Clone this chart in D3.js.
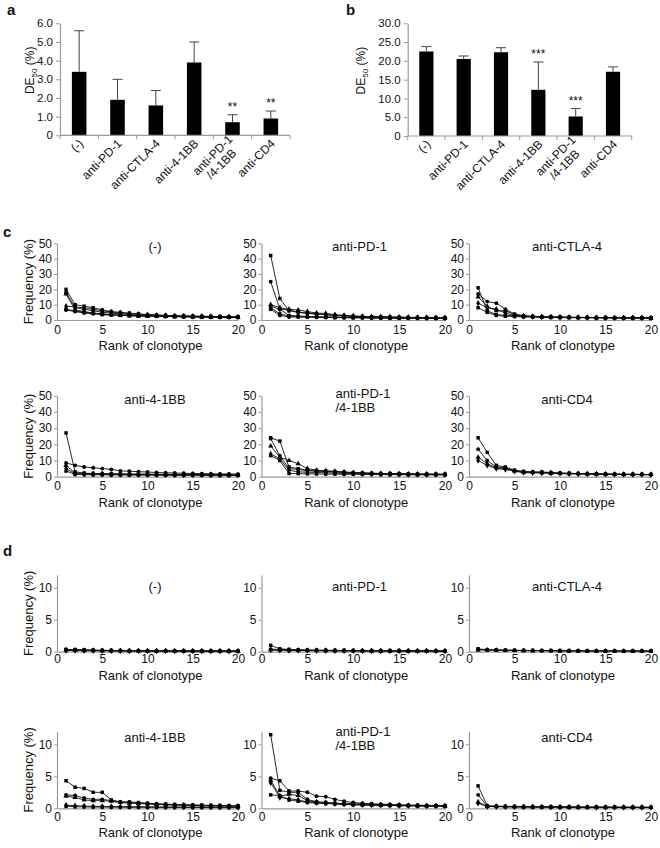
<!DOCTYPE html>
<html><head><meta charset="utf-8">
<script src="https://cdn.jsdelivr.net/npm/d3@7"></script>
<style>
body{margin:0;background:#fff}
svg text{font-family:"Liberation Sans",Arial,Helvetica,sans-serif;fill:#111}
</style>
</head><body>
<svg id="fig" width="660" height="848"></svg>
<script>
// ---------- data ----------
const barCats = ["(-)","anti-PD-1","anti-CTLA-4","anti-4-1BB","anti-PD-1\n/4-1BB","anti-CD4"];
const aMean = [3.4,1.9,1.6,3.9,0.7,0.9];
const aErr  = [2.2,1.1,0.8,1.1,0.4,0.4];
const aSig  = ["","","","","**","**"];
const aTicks = [0,1,2,3,4,5,6];
const bMean = [22.5,20.5,22.3,12.3,5.2,17.1];
const bErr  = [1.3,0.8,1.2,7.4,2.1,1.3];
const bSig  = ["","","","***","***",""];
const bTicks = [0,5,10,15,20,25,30];

const panelTitles = ["(-)","anti-PD-1","anti-CTLA-4","anti-4-1BB","anti-PD-1\n/4-1BB","anti-CD4"];
const ranks = d3.range(1,21);
const rankTicks = [0,5,10,15,20];
const cTicks = [0,10,20,30,40,50];
const dTicks = [0,5,10];

// panel c (frequency % by clonotype rank), one array per mouse
const cNeg = [
 [20,10,9,8,6.5,5.5,5,4.5,4,3.5,3.3,3,2.8,2.7,2.5,2.4,2.3,2.2,2.1,2.0],
 [18,8,7,6,5,4.5,4,3.6,3.3,3,2.8,2.6,2.5,2.4,2.3,2.2,2.1,2.0,1.9,1.9],
 [17,6.5,5.5,4.5,3.8,3.4,3.1,2.8,2.6,2.5,2.4,2.3,2.2,2.1,2.0,1.9,1.8,1.8,1.7,1.7],
 [9,8.5,8,7,6,5.2,4.6,4.1,3.7,3.4,3.1,2.9,2.7,2.6,2.5,2.4,2.3,2.2,2.1,2.0],
 [7,6,5,4.5,4,3.5,3.2,3.0,2.8,2.6,2.5,2.4,2.3,2.2,2.1,2.0,1.9,1.9,1.8,1.8],
 [6.5,5.5,4.5,4,3.5,3.2,3,2.8,2.6,2.5,2.4,2.3,2.2,2.1,2.0,1.9,1.9,1.8,1.8,1.7]
];
const cPD1 = [
 [42,14,6,5,4.3,3.8,3.4,3.0,2.7,2.5,2.3,2.1,2.0,1.9,1.8,1.7,1.7,1.6,1.6,1.5],
 [25,7,3,2.6,2.3,2.1,2.0,1.9,1.8,1.7,1.6,1.5,1.5,1.4,1.4,1.3,1.3,1.3,1.2,1.2],
 [10,8,7,6.5,5.5,4.5,4.3,3.5,3.0,2.6,2.3,2.1,2.0,1.9,1.8,1.7,1.6,1.6,1.5,1.5],
 [9,7,6.5,5,4.5,4,3.5,3,2.7,2.4,2.2,2.0,1.9,1.8,1.7,1.6,1.6,1.5,1.5,1.4],
 [8,4,2.5,2.3,2.1,1.9,1.8,1.7,1.6,1.5,1.5,1.4,1.4,1.3,1.3,1.3,1.2,1.2,1.2,1.1],
 [7,3,2,1.9,1.8,1.7,1.6,1.5,1.5,1.4,1.4,1.3,1.3,1.2,1.2,1.2,1.1,1.1,1.1,1.0]
];
const cCTLA4 = [
 [21,6,3.5,3,2.7,2.4,2.2,2.0,1.9,1.8,1.7,1.7,1.6,1.6,1.5,1.5,1.5,1.4,1.4,1.4],
 [17,12,11,7,4,2.8,2.4,2.2,2.0,1.9,1.8,1.7,1.7,1.6,1.6,1.5,1.5,1.5,1.4,1.4],
 [15,9,6,6,3.5,2.6,2.3,2.1,1.9,1.8,1.7,1.6,1.6,1.5,1.5,1.5,1.4,1.4,1.4,1.3],
 [11,8,7,4.5,3,2.5,2.2,2.0,1.9,1.8,1.7,1.6,1.6,1.5,1.5,1.4,1.4,1.4,1.3,1.3],
 [8,5,3,2.5,2.2,2.0,1.9,1.8,1.7,1.6,1.6,1.5,1.5,1.4,1.4,1.4,1.3,1.3,1.3,1.3]
];
const c41BB = [
 [27,3,2.2,2.0,1.9,1.8,1.7,1.6,1.6,1.5,1.5,1.4,1.4,1.3,1.3,1.3,1.2,1.2,1.2,1.2],
 [8.5,7,6,5.5,5,4.5,3.6,3.4,3.1,2.9,2.6,2.4,2.3,2.1,2.0,1.9,1.8,1.7,1.7,1.6],
 [7,2.2,2.0,1.9,1.8,1.7,1.6,1.6,1.5,1.5,1.4,1.4,1.3,1.3,1.3,1.2,1.2,1.2,1.1,1.1],
 [5,1.8,1.6,1.5,1.5,1.4,1.4,1.3,1.3,1.2,1.2,1.2,1.1,1.1,1.1,1.0,1.0,1.0,1.0,1.0],
 [3.5,1.5,1.3,1.2,1.2,1.1,1.1,1.0,1.0,1.0,1.0,0.9,0.9,0.9,0.9,0.9,0.8,0.8,0.8,0.8]
];
const cPD1_41BB = [
 [24,22,6,5,4,3.8,3.5,3.2,2.8,2.5,2.3,2.1,2.0,1.9,1.8,1.7,1.6,1.6,1.5,1.5],
 [23.5,13,5,4.5,3.7,3.4,3.2,2.9,2.6,2.4,2.2,2.0,1.9,1.8,1.7,1.6,1.6,1.5,1.5,1.4],
 [19,12,10,8,5,4,3.6,3.3,2.9,2.6,2.3,2.1,2.0,1.9,1.8,1.7,1.6,1.6,1.5,1.5],
 [14,11,4,3,2.8,2.6,2.4,2.2,2.0,1.9,1.8,1.7,1.6,1.5,1.5,1.4,1.4,1.3,1.3,1.3],
 [13,10,2,1.9,1.8,1.7,1.6,1.6,1.5,1.5,1.4,1.4,1.3,1.3,1.3,1.2,1.2,1.2,1.2,1.1]
];
const cCD4 = [
 [24,15,7,6,4,3.3,3.0,2.9,2.6,2.3,2.1,2.0,1.9,1.8,1.7,1.6,1.5,1.5,1.4,1.4],
 [17,10,6,5.5,3.8,3.0,2.8,2.7,2.4,2.2,2.0,1.9,1.8,1.7,1.6,1.5,1.5,1.4,1.4,1.3],
 [12,8,5.5,5,3.6,2.7,2.6,2.5,2.2,2.0,1.9,1.8,1.7,1.6,1.5,1.5,1.4,1.4,1.3,1.3],
 [10,7,5,4.5,3.4,2.5,2.4,2.3,2.1,1.9,1.8,1.7,1.6,1.5,1.5,1.4,1.4,1.3,1.3,1.2]
];
// panel d
const dNeg = [
 [0.35,0.33,0.3,0.25,0.22,0.2,0.18,0.17,0.16,0.15,0.14,0.14,0.13,0.13,0.12,0.12,0.12,0.11,0.11,0.1],
 [0.3,0.28,0.25,0.22,0.2,0.18,0.17,0.16,0.15,0.14,0.13,0.13,0.12,0.12,0.11,0.11,0.1,0.1,0.1,0.1],
 [0.25,0.22,0.2,0.18,0.16,0.15,0.14,0.13,0.12,0.12,0.11,0.11,0.1,0.1,0.1,0.09,0.09,0.09,0.09,0.08],
 [0.2,0.18,0.16,0.15,0.14,0.13,0.12,0.11,0.11,0.1,0.1,0.1,0.09,0.09,0.09,0.08,0.08,0.08,0.08,0.08]
];
const dPD1 = [
 [1.0,0.45,0.35,0.3,0.26,0.24,0.22,0.2,0.19,0.18,0.17,0.16,0.15,0.15,0.14,0.14,0.13,0.13,0.12,0.12],
 [0.4,0.35,0.3,0.27,0.24,0.22,0.2,0.19,0.18,0.17,0.16,0.15,0.15,0.14,0.14,0.13,0.13,0.12,0.12,0.12],
 [0.3,0.27,0.24,0.22,0.2,0.18,0.17,0.16,0.15,0.14,0.14,0.13,0.13,0.12,0.12,0.11,0.11,0.11,0.1,0.1],
 [0.25,0.22,0.2,0.18,0.17,0.16,0.15,0.14,0.13,0.13,0.12,0.12,0.11,0.11,0.1,0.1,0.1,0.1,0.09,0.09]
];
const dCTLA4 = [
 [0.45,0.3,0.28,0.25,0.22,0.2,0.19,0.18,0.17,0.16,0.15,0.14,0.14,0.13,0.13,0.12,0.12,0.12,0.11,0.11],
 [0.35,0.3,0.26,0.23,0.21,0.19,0.18,0.17,0.16,0.15,0.14,0.14,0.13,0.13,0.12,0.12,0.11,0.11,0.11,0.1],
 [0.28,0.25,0.22,0.2,0.18,0.17,0.16,0.15,0.14,0.13,0.13,0.12,0.12,0.11,0.11,0.11,0.1,0.1,0.1,0.1]
];
const d41BB = [
 [4.3,3.3,3.1,2.5,2.5,1.3,1.0,1.0,0.9,0.8,0.7,0.65,0.6,0.55,0.5,0.5,0.45,0.45,0.4,0.4],
 [2.1,2.0,1.6,1.4,1.4,1.2,1.0,0.9,0.8,0.7,0.65,0.6,0.55,0.5,0.5,0.45,0.4,0.4,0.4,0.35],
 [1.9,1.7,1.3,1.2,1.2,1.1,0.9,0.8,0.75,0.7,0.6,0.55,0.5,0.5,0.45,0.4,0.4,0.35,0.35,0.35],
 [0.5,0.4,0.35,0.3,0.3,0.28,0.26,0.25,0.24,0.23,0.22,0.21,0.2,0.2,0.19,0.19,0.18,0.18,0.17,0.17],
 [0.3,0.25,0.22,0.2,0.19,0.18,0.17,0.16,0.15,0.15,0.14,0.14,0.13,0.13,0.12,0.12,0.12,0.11,0.11,0.11]
];
const dPD1_41BB = [
 [11.5,2.8,2.5,2.5,1.4,1.0,0.9,0.8,0.75,0.7,0.65,0.6,0.55,0.5,0.5,0.45,0.45,0.4,0.4,0.4],
 [4.7,4.3,2.7,2.7,2.5,1.9,1.8,1.4,1.1,0.9,0.8,0.7,0.65,0.6,0.55,0.5,0.5,0.45,0.45,0.4],
 [4.4,1.9,2.2,2.0,1.2,1.0,0.9,0.8,0.7,0.65,0.6,0.55,0.5,0.5,0.45,0.45,0.4,0.4,0.4,0.35],
 [4.0,1.7,1.5,1.3,1.0,0.9,0.8,0.7,0.65,0.6,0.55,0.5,0.5,0.45,0.45,0.4,0.4,0.35,0.35,0.35],
 [2.1,2.0,1.3,1.1,0.9,0.8,0.75,0.7,0.6,0.55,0.5,0.5,0.45,0.45,0.4,0.4,0.35,0.35,0.35,0.3]
];
const dCD4 = [
 [3.5,0.4,0.35,0.3,0.3,0.28,0.26,0.25,0.24,0.23,0.22,0.21,0.2,0.2,0.19,0.19,0.18,0.18,0.17,0.17],
 [2.1,0.35,0.3,0.28,0.26,0.24,0.22,0.21,0.2,0.2,0.19,0.18,0.18,0.17,0.17,0.16,0.16,0.15,0.15,0.15],
 [1.0,0.3,0.27,0.25,0.23,0.22,0.21,0.2,0.19,0.18,0.18,0.17,0.16,0.16,0.15,0.15,0.14,0.14,0.14,0.13],
 [0.8,0.28,0.25,0.23,0.21,0.2,0.19,0.18,0.17,0.17,0.16,0.15,0.15,0.14,0.14,0.13,0.13,0.13,0.12,0.12]
];

// ---------- drawing ----------
const svg = d3.select("#fig");
const AX = "#9a9a9a";
const fmt1 = d => d === 0 ? "0" : d3.format(".1f")(d);

function styleAxis(g, fs){
  g.select(".domain").attr("stroke", AX).attr("stroke-width", 1.2);
  g.selectAll(".tick line").attr("stroke", AX);
  g.selectAll(".tick text").attr("font-size", fs).attr("fill", "#111")
    .attr("font-family", '"Liberation Sans",Arial,sans-serif');
}

function barPanel(o){
  const g = svg.append("g");
  const x = d3.scaleBand().domain(barCats).range([o.x0, o.x1]).paddingInner(0.62).paddingOuter(0.31);
  const y = d3.scaleLinear().domain([0, o.max]).range([o.y0, o.yTop]);
  const step = x.step();
  // bars
  g.selectAll("rect.bar").data(o.mean).join("rect").attr("class","bar")
    .attr("x", (d,i) => x(barCats[i])).attr("y", d => y(d))
    .attr("width", x.bandwidth()).attr("height", d => y(0) - y(d)).attr("fill", "#000");
  // error bars (upper only)
  const cx = i => x(barCats[i]) + x.bandwidth()/2;
  g.selectAll("line.err").data(o.mean).join("line").attr("class","err")
    .attr("x1", (d,i)=>cx(i)).attr("x2", (d,i)=>cx(i))
    .attr("y1", d => y(d)).attr("y2", (d,i) => y(d + o.err[i]))
    .attr("stroke", "#444").attr("stroke-width", 1);
  g.selectAll("line.cap").data(o.mean).join("line").attr("class","cap")
    .attr("x1", (d,i)=>cx(i)-5).attr("x2", (d,i)=>cx(i)+5)
    .attr("y1", (d,i) => y(d + o.err[i])).attr("y2", (d,i) => y(d + o.err[i]))
    .attr("stroke", "#444").attr("stroke-width", 1);
  // significance
  g.selectAll("text.sig").data(o.sig).join("text").attr("class","sig")
    .attr("x", (d,i)=>cx(i)).attr("y", (d,i) => y(o.mean[i] + o.err[i]) - 4)
    .attr("text-anchor","middle").attr("font-size", 12).text(d => d);
  // y axis
  const ya = g.append("g").attr("transform", `translate(${o.x0},0)`)
    .call(d3.axisLeft(y).tickValues(o.ticks).tickFormat(fmt1).tickSize(4).tickPadding(3).tickSizeOuter(0));
  styleAxis(ya, 11.5);
  // x axis baseline with boundary ticks
  const xa = g.append("g").attr("transform", `translate(0,${o.y0})`);
  xa.append("line").attr("x1", o.x0).attr("x2", o.x1).attr("y1",0).attr("y2",0)
    .attr("stroke", AX).attr("stroke-width", 1.2);
  xa.selectAll("line.bt").data(d3.range(barCats.length + 1)).join("line").attr("class","bt")
    .attr("x1", i => o.x0 + i*step).attr("x2", i => o.x0 + i*step)
    .attr("y1", 0).attr("y2", 4).attr("stroke", AX);
  // rotated category labels
  barCats.forEach((c,i) => {
    const lines = c.split("\n");
    const t = g.append("text").attr("font-size", 12)
      .attr("text-anchor", lines.length > 1 ? "middle" : "end");
    lines.forEach((ln,j) => t.append("tspan").attr("x", 0)
      .attr("dy", j === 0 ? (lines.length > 1 ? "-0.5em" : 0) : "1.05em").text(ln));
    let L = 0;
    if (lines.length > 1) L = d3.max(t.selectAll("tspan").nodes(), n => n.getComputedTextLength());
    t.attr("transform", `translate(${cx(i)+5},${o.y0+9}) rotate(-45) translate(${-L/2},0)`);
  });
  // y label DE50 (%)
  const yl = g.append("text").attr("font-size", 12).attr("text-anchor","middle")
    .attr("transform", `translate(${o.ylx},${(o.y0+o.yTop)/2 - 9}) rotate(-90)`);
  yl.append("tspan").text("DE");
  yl.append("tspan").attr("font-size", 8).attr("dy", 3).text("50");
  yl.append("tspan").attr("dy", -3).text(" (%)");
  // panel letter
  svg.append("text").attr("x", o.lx).attr("y", 15).attr("font-size", 15)
    .attr("font-weight","bold").text(o.letter);
}

barPanel({x0:60, x1:290, y0:135.3, yTop:23.3, max:6, ticks:aTicks, mean:aMean, err:aErr, sig:aSig, ylx:33.5, lx:7, letter:"a"});
barPanel({x0:407.7, x1:631.7, y0:136, yTop:23.3, max:30, ticks:bTicks, mean:bMean, err:bErr, sig:bSig, ylx:365, lx:346, letter:"b"});

const cols = [[57,238],[261.5,445],[469,651]];
const symbols = [d3.symbolSquare, d3.symbolCircle, d3.symbolTriangle, d3.symbolDiamond, d3.symbolSquare, d3.symbolCircle];

function linePanel(col, row, title, series){
  const [xa0, xa1] = cols[col];
  const g = svg.append("g");
  const x = d3.scaleLinear().domain([0,20]).range([xa0, xa1]);
  const y = d3.scaleLinear().domain([0, row.max]).range([row.y0, row.yTop]);
  // axes
  const gy = g.append("g").attr("transform", `translate(${xa0},0)`)
    .call(d3.axisLeft(y).tickValues(row.ticks).tickSize(3).tickPadding(2).tickSizeOuter(0));
  styleAxis(gy, 12);
  const gx = g.append("g").attr("transform", `translate(0,${row.y0})`)
    .call(d3.axisBottom(x).tickValues(rankTicks).tickSize(0).tickPadding(row.tp).tickSizeOuter(0));
  styleAxis(gx, 12);
  // lines and markers
  const line = d3.line().x((d,i) => x(ranks[i])).y(d => y(d));
  series.forEach((s,k) => {
    g.append("path").attr("d", line(s)).attr("fill","none").attr("stroke","#111").attr("stroke-width", 0.9);
    g.selectAll(null).data(s).join("path")
      .attr("transform", (d,i) => `translate(${x(ranks[i])},${y(d)})`)
      .attr("d", d3.symbol().type(symbols[k % symbols.length]).size(12)())
      .attr("fill", "#000");
  });
  // x label
  g.append("text").attr("x", (xa0+xa1)/2 + 3).attr("y", row.y0 + row.xl)
    .attr("text-anchor","middle").attr("font-size", 13).text("Rank of clonotype");
  // title
  const lines = title.split("\n");
  if (lines.length === 1) {
    g.append("text").attr("x", xa0 + 98).attr("y", row.tb).attr("text-anchor","middle")
      .attr("font-size", 13).text(title);
  } else {
    lines.forEach((ln,j) => g.append("text").attr("x", xa0 + 74).attr("y", row.tb - 6 + j*14)
      .attr("font-size", 13).text(ln));
  }
  if (col === 0) {
    g.append("text").attr("font-size", 13).attr("text-anchor","middle")
      .attr("transform", `translate(${33},${(row.y0+row.yTop)/2}) rotate(-90)`)
      .text("Frequency (%)");
  }
}

const rowsC = [
  {y0:320, yTop:243.3, max:50, ticks:cTicks, tb:251, tp:5, xl:30},
  {y0:476.7, yTop:395.7, max:50, ticks:cTicks, tb:404, tp:5, xl:30}
];
const rowsD = [
  {y0:651.7, yTop:574.9, max:12, ticks:dTicks, tb:591, tp:3, xl:28},
  {y0:808.3, yTop:731.5, max:12, ticks:dTicks, tb:742, tp:4, xl:29}
];
const cSets = [cNeg, cPD1, cCTLA4, c41BB, cPD1_41BB, cCD4];
const dSets = [dNeg, dPD1, dCTLA4, d41BB, dPD1_41BB, dCD4];
cSets.forEach((s,i) => linePanel(i%3, rowsC[Math.floor(i/3)], panelTitles[i], s));
dSets.forEach((s,i) => linePanel(i%3, rowsD[Math.floor(i/3)], panelTitles[i], s));

svg.append("text").attr("x", 3).attr("y", 237).attr("font-size", 15).attr("font-weight","bold").text("c");
svg.append("text").attr("x", 3).attr("y", 556).attr("font-size", 15).attr("font-weight","bold").text("d");
</script>
</body></html>
